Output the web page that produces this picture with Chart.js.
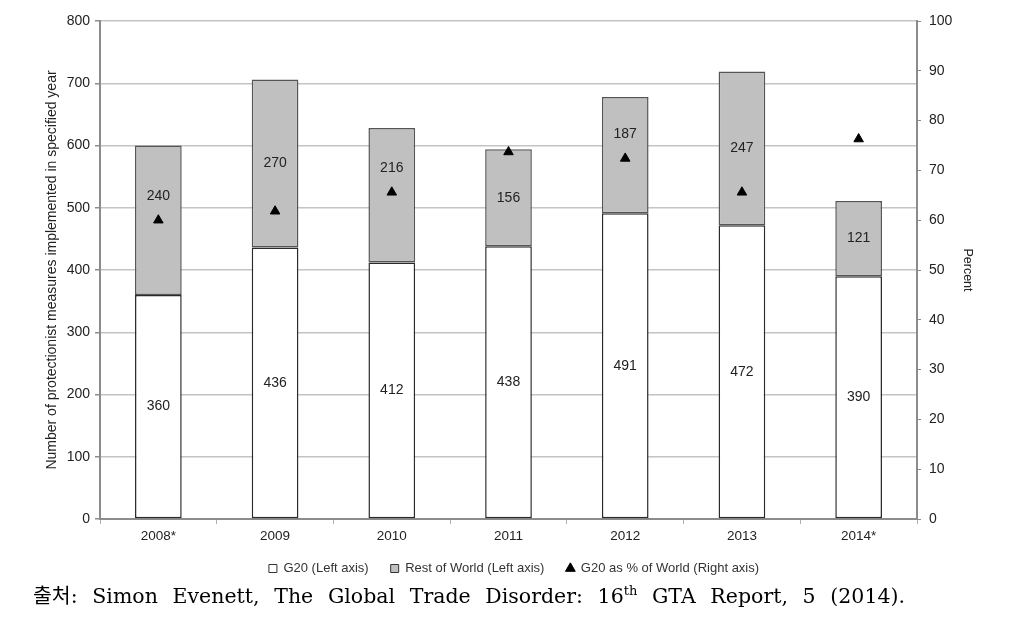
<!DOCTYPE html>
<html>
<head>
<meta charset="utf-8">
<script src="https://cdn.jsdelivr.net/npm/chart.js@4"></script>
<style>
  body { margin: 0; background: #fff; width: 1028px; height: 630px; overflow: hidden; position: relative; }
  #wrap { position: absolute; left: 0; top: 0; width: 1028px; height: 585px; }
  #source {
    position: absolute; left: 33px; top: 579px; width: 872px;
    font-family: "DejaVu Serif", "Liberation Serif", "Noto Sans CJK KR", serif;
    font-size: 20.5px; color: #000; white-space: nowrap;
    text-align: justify; text-align-last: justify;
  }
  #source .ko { font-family: "Noto Sans CJK KR", sans-serif; }
  #source sup { font-size: 13px; vertical-align: 8px; line-height: 0; }
</style>
</head>
<body>
<div id="wrap"><canvas id="gtaChart"></canvas></div>
<div id="source"><span class="ko">출처</span>: Simon Evenett, The Global Trade Disorder: 16<sup>th</sup> GTA Report, 5 (2014).</div>
<script>
const years = ['2008*', '2009', '2010', '2011', '2012', '2013', '2014*'];
const g20Measures = [360, 436, 412, 438, 491, 472, 390];
const restOfWorld = [240, 270, 216, 156, 187, 247, 121];
const g20Share = [60.0, 61.8, 65.6, 73.7, 72.4, 65.6, 76.3];

const axisGrey = '#8c8c8c';
const sans = '"Liberation Sans", Arial, sans-serif';

// value labels in the middle of each bar segment,
// pushed above the triangle when they would sit on top of it
const barLabels = {
  id: 'barLabels',
  afterDatasetsDraw(chart) {
    const c = chart.ctx;
    const marks = chart.getDatasetMeta(2).data;
    c.save();
    c.font = '14px ' + sans;
    c.fillStyle = '#222';
    c.textAlign = 'center';
    c.textBaseline = 'middle';
    [0, 1].forEach(di => {
      const meta = chart.getDatasetMeta(di);
      meta.data.forEach((bar, i) => {
        let y = (bar.y + bar.base) / 2;
        const tri = marks[i];
        if (tri && Math.abs(tri.y - y) < 15) y = tri.y - 24;
        c.fillText(chart.data.datasets[di].data[i], bar.x, y);
      });
    });
    c.restore();
  }
};

const ctx = document.getElementById('gtaChart').getContext('2d');

const gtaChart = new Chart(ctx, {
  data: {
    labels: years,
    datasets: [{
      type: 'bar',
      label: 'G20 (Left axis)',
      data: g20Measures,
      backgroundColor: '#ffffff',
      borderColor: '#2a2a2a',
      borderWidth: 1.5,
      borderSkipped: false,
      yAxisID: 'y',
      stack: 'world',
      order: 1
    }, {
      type: 'bar',
      label: 'Rest of World (Left axis)',
      data: restOfWorld,
      backgroundColor: '#c0c0c0',
      borderColor: '#555555',
      borderWidth: 1.5,
      borderSkipped: false,
      yAxisID: 'y',
      stack: 'world',
      order: 1
    }, {
      type: 'line',
      label: 'G20 as % of World (Right axis)',
      data: g20Share,
      showLine: false,
      pointStyle: 'triangle',
      pointRadius: 5.5,
      pointBackgroundColor: '#000',
      pointBorderColor: '#000',
      backgroundColor: '#000',
      borderColor: '#000',
      yAxisID: 'y1',
      order: 0
    }]
  },
  options: {
    responsive: true,
    maintainAspectRatio: false,
    animation: false,
    layout: {
      padding: { top: 21, right: 0, bottom: 0, left: 0 }
    },
    datasets: {
      bar: {
        barPercentage: 0.4,
        categoryPercentage: 1.0
      }
    },
    plugins: {
      tooltip: { enabled: false },
      legend: {
        position: 'bottom',
        labels: {
          usePointStyle: true,
          boxWidth: 8,
          boxHeight: 8,
          padding: 22,
          color: '#333',
          font: { family: sans, size: 13 },
          sort: (a, b) => a.datasetIndex - b.datasetIndex,
          generateLabels(chart) {
            return chart.data.datasets.map((ds, i) => ({
              text: ds.label,
              datasetIndex: i,
              fillStyle: ds.backgroundColor,
              strokeStyle: i === 2 ? '#000' : '#333',
              lineWidth: 1,
              pointStyle: i === 2 ? 'triangle' : 'rect',
              fontColor: '#333',
              hidden: false
            }));
          }
        }
      }
    },
    scales: {
      x: {
        stacked: true,
        afterFit(scale) { scale.height = 21; },
        grid: {
          drawOnChartArea: false,
          offset: true,
          tickLength: 5,
          tickColor: '#b0b0b0'
        },
        border: { color: axisGrey, width: 2 },
        ticks: {
          padding: 4,
          color: '#222',
          font: { family: sans, size: 13.5 }
        }
      },
      y: {
        stacked: true,
        position: 'left',
        min: 0,
        max: 800,
        afterFit(scale) { scale.width = 100; },
        ticks: {
          stepSize: 100,
          padding: 5,
          color: '#222',
          font: { family: sans, size: 14 }
        },
        grid: {
          color: '#c4c4c4',
          lineWidth: 1.5,
          tickLength: 5,
          tickColor: axisGrey
        },
        border: { color: axisGrey, width: 2 },
        title: {
          display: true,
          text: 'Number of protectionist measures implemented in specified year',
          color: '#222',
          padding: { top: 44 },
          font: { family: sans, size: 14 }
        }
      },
      y1: {
        position: 'right',
        min: 0,
        max: 100,
        afterFit(scale) { scale.width = 111; },
        ticks: {
          stepSize: 10,
          padding: 8,
          color: '#222',
          font: { family: sans, size: 14 }
        },
        grid: {
          drawOnChartArea: false,
          tickLength: 4,
          tickColor: axisGrey
        },
        border: { color: axisGrey, width: 2 },
        title: {
          display: true,
          text: 'Percent',
          color: '#222',
          padding: { top: 53 },
          font: { family: sans, size: 12.5 }
        }
      }
    }
  },
  plugins: [barLabels]
});
</script>
</body>
</html>
